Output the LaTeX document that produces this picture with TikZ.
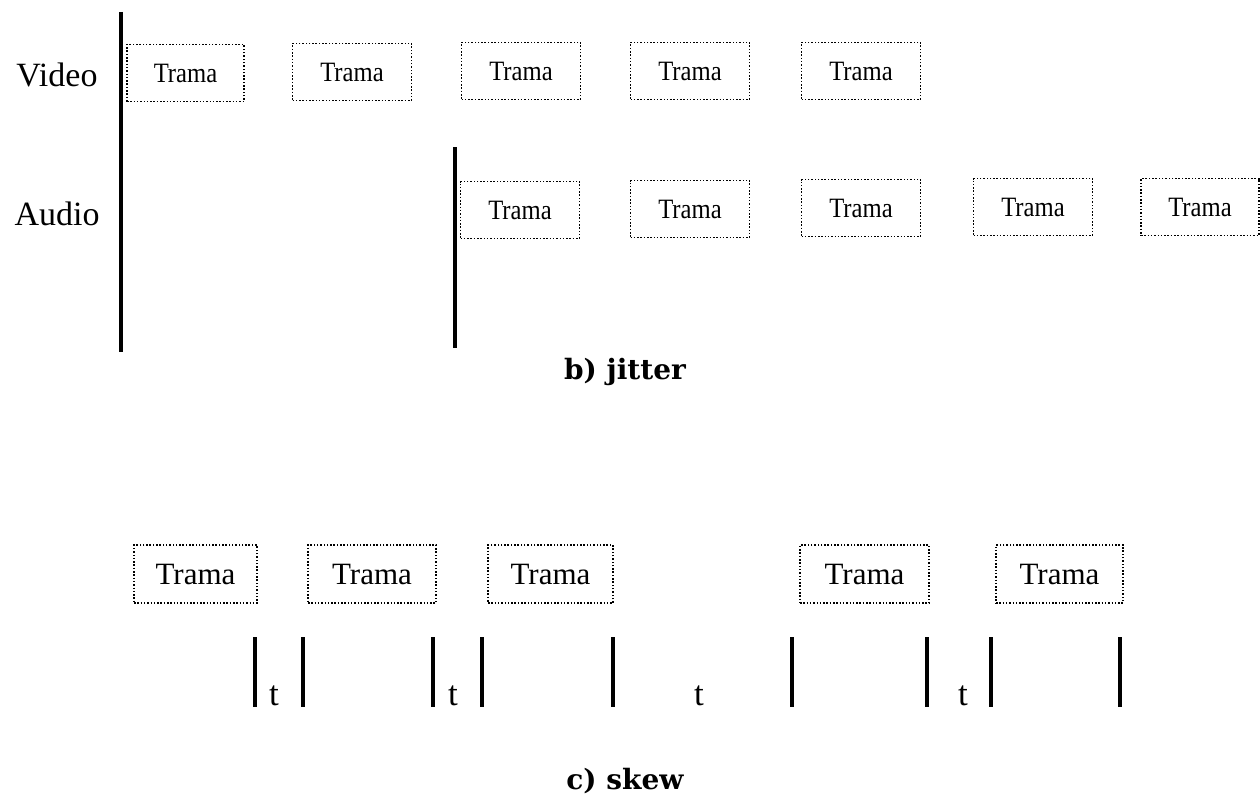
\documentclass[tikz,border=0pt]{standalone}
\usepackage{fontspec}
\setmainfont{Liberation Serif}
\newfontfamily\capfont{DejaVu Serif}
\begin{document}
\begin{tikzpicture}[x=1pt,y=-1pt,
  frame/.style={draw, line width=1.9pt, dash pattern=on 1.5pt off 1.8pt,
    inner sep=0pt, minimum width=119pt, minimum height=57pt,
    font=\fontsize{28}{30}\selectfont},
  skewframe/.style={frame, minimum width=125pt, minimum height=58pt,
    font=\fontsize{31}{34}\selectfont},
  track/.style={line width=3.6pt},
  tick/.style={line width=3.6pt},
  lbl/.style={font=\fontsize{34}{36}\selectfont, inner sep=0pt},
  tlbl/.style={font=\fontsize{35}{38}\selectfont, inner sep=0pt, anchor=base},
  caption/.style={font=\capfont\bfseries\fontsize{28}{32}\selectfont, inner sep=0pt}]
\useasboundingbox (0,0) rectangle (1260,800);

% --- b) jitter: video and audio streams ---
\coordinate (vtop) at (121,12);
\coordinate (vbot) at (121,352);
\coordinate (atop) at (455,147);
\coordinate (abot) at (455,348);
\draw[track] (vtop) -- (vbot);
\draw[track] (atop) -- (abot);

\node[lbl] (video) at (57,75) {Video};
\node[lbl] (audio) at (57,214) {Audio};

\node[frame, minimum width=117pt] (v1) at (185.5,73) {\scalebox{0.88}[1]{Trama}};
\node[frame] (v2) at (352,72) {\scalebox{0.88}[1]{Trama}};
\node[frame] (v3) at (521,71) {\scalebox{0.88}[1]{Trama}};
\node[frame] (v4) at (690,71) {\scalebox{0.88}[1]{Trama}};
\node[frame] (v5) at (861,71) {\scalebox{0.88}[1]{Trama}};

\node[frame] (a1) at (520,210) {\scalebox{0.88}[1]{Trama}};
\node[frame] (a2) at (690,209) {\scalebox{0.88}[1]{Trama}};
\node[frame] (a3) at (861,208) {\scalebox{0.88}[1]{Trama}};
\node[frame] (a4) at (1033,207) {\scalebox{0.88}[1]{Trama}};
\node[frame, minimum width=118pt] (a5) at (1200,207) {\scalebox{0.88}[1]{Trama}};

\node[caption] (jitter) at (625,372) {b) jitter};

% --- c) skew: frames and inter-frame gaps ---
\node[skewframe, minimum width=123pt] (s1) at (195.5,574) {Trama};
\node[skewframe, minimum width=128pt] (s2) at (372,574) {Trama};
\node[skewframe] (s3) at (550.5,574) {Trama};
\node[skewframe, minimum width=129pt] (s4) at (864.5,574) {Trama};
\node[skewframe, minimum width=127pt] (s5) at (1059.5,574) {Trama};

\foreach \x in {255,303,433,482,613,792,927,991,1120}
  \draw[tick] (\x,637) -- (\x,707);

\node[tlbl] (t1) at (274,705) {t};
\node[tlbl] (t2) at (453,705) {t};
\node[tlbl] (t3) at (699,705) {t};
\node[tlbl] (t4) at (963,705) {t};

\node[caption] (skew) at (625,781) {c) skew};
\end{tikzpicture}
\end{document}
